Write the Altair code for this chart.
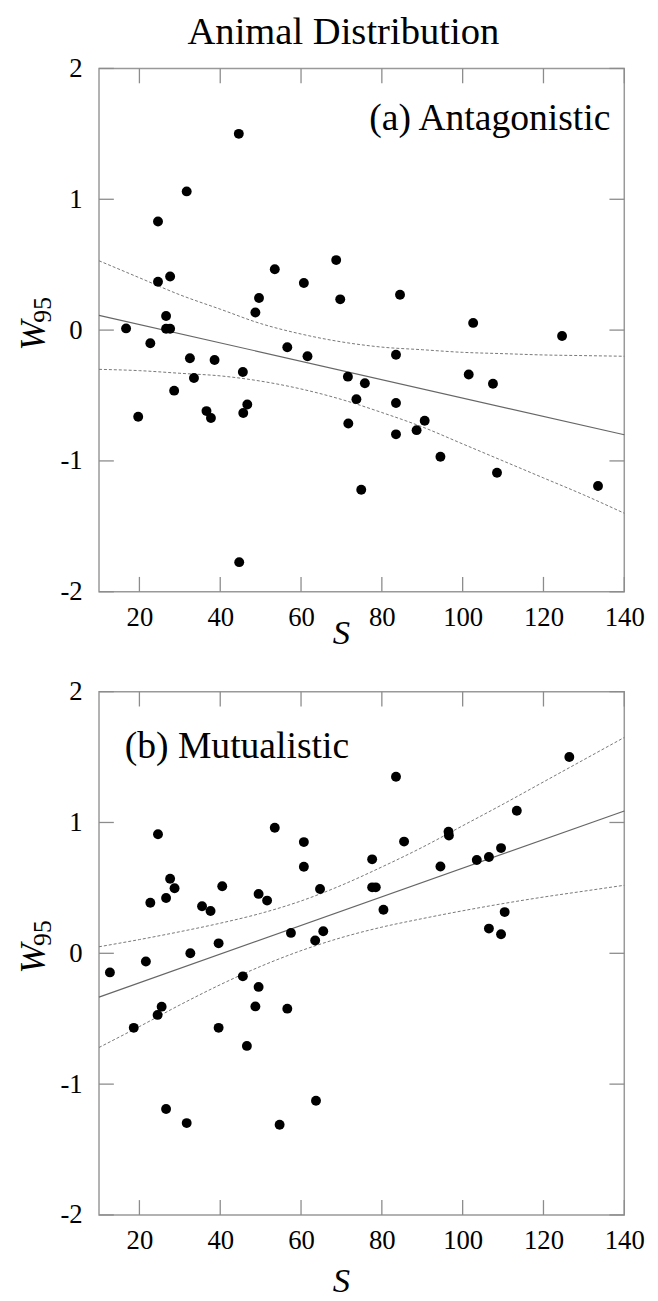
import altair as alt
import pandas as pd

FONT = "Liberation Serif"
PW, PH = 531, 529

# ---- data ----
top_S = [44.6, 31.7, 24.6, 68.7, 53.5, 24.6, 27.6, 60.7, 49.6, 69.7, 84.5, 48.7, 26.6, 102.6,
         16.7, 26.6, 27.6, 124.6, 22.7, 32.5, 38.6, 56.6, 61.6, 83.5, 33.5, 45.6, 28.6, 19.7,
         36.6, 37.7, 45.7, 46.7, 71.6, 75.8, 73.7, 71.7, 83.5, 83.5, 88.6, 90.6, 94.5, 101.5,
         107.5, 108.5, 133.5, 74.9, 44.7]
top_W = [1.50, 1.06, 0.83, 0.535, 0.465, 0.37, 0.41, 0.36, 0.245, 0.235, 0.27, 0.135, 0.108, 0.055,
         0.013, 0.01, 0.01, -0.045, -0.10, -0.215, -0.229, -0.131, -0.20, -0.188, -0.366, -0.32,
         -0.463, -0.662, -0.619, -0.672, -0.634, -0.569, -0.356, -0.406, -0.528, -0.714, -0.557,
         -0.797, -0.765, -0.693, -0.968, -0.339, -0.41, -1.09, -1.192, -1.22, -1.774]

bot_S = [126.4, 83.5, 113.4, 24.6, 53.5, 60.7, 85.5, 96.5, 96.6, 77.6, 60.7, 94.5, 103.5, 106.5,
         109.5, 27.6, 28.7, 22.7, 26.6, 40.5, 49.5, 51.6, 64.7, 77.6, 78.5, 35.5, 37.6, 80.4,
         110.4, 57.5, 65.5, 63.5, 106.5, 109.5, 39.6, 32.6, 12.7, 21.6, 45.6, 49.5, 25.5, 24.5,
         48.7, 56.6, 18.6, 39.6, 46.6, 26.6, 31.7, 54.7, 63.7]
bot_W = [1.50, 1.35, 1.09, 0.91, 0.96, 0.85, 0.854, 0.93, 0.90, 0.718, 0.662, 0.663, 0.713, 0.736,
         0.804, 0.57, 0.497, 0.386, 0.423, 0.512, 0.454, 0.403, 0.491, 0.504, 0.504, 0.36, 0.323,
         0.333, 0.315, 0.156, 0.169, 0.098, 0.189, 0.146, 0.076, 0.0, -0.146, -0.063, -0.176,
         -0.257, -0.408, -0.471, -0.406, -0.423, -0.57, -0.57, -0.708, -1.19, -1.298, -1.311, -1.127]

band_S = [10, 20, 30, 40, 50, 60, 70, 80, 90, 100, 110, 120, 130, 140]
top_up = [0.53, 0.40, 0.27, 0.16, 0.05, -0.03, -0.09, -0.13, -0.15, -0.17, -0.18, -0.19, -0.195, -0.20]
top_lo = [-0.30, -0.31, -0.33, -0.35, -0.39, -0.45, -0.53, -0.63, -0.74, -0.87, -1.00, -1.13, -1.26, -1.40]
bot_up = [0.05, 0.105, 0.165, 0.23, 0.305, 0.40, 0.52, 0.66, 0.81, 0.975, 1.14, 1.31, 1.48, 1.65]
bot_lo = [-0.72, -0.56, -0.395, -0.24, -0.10, 0.02, 0.12, 0.20, 0.265, 0.325, 0.38, 0.43, 0.475, 0.52]

fit_S = [10, 140]
top_fit = [0.113, -0.800]
bot_fit = [-0.335, 1.088]

x_ticks = [20, 40, 60, 80, 100, 120, 140]
y_ticks = [-2, -1, 0, 1, 2]

xscale = alt.Scale(domain=[10, 140], nice=False, zero=False)
yscale = alt.Scale(domain=[-2, 2], nice=False, zero=False)
xaxis = alt.Axis(values=x_ticks, title=None, domain=False, ticks=False, tickSize=0, grid=False,
                 labelFont=FONT, labelFontSize=27, labelColor="black", labelPadding=13,
                 labelFlush=False, labelOverlap=False, labelExpr="'' + datum.value")
yaxis = alt.Axis(values=y_ticks, title=None, domain=False, ticks=False, tickSize=0, grid=False,
                 labelFont=FONT, labelFontSize=27, labelColor="black", labelPadding=17,
                 labelFlush=False, labelOverlap=False, labelExpr="'' + datum.value")


def X(f):
    return alt.X(f, type="quantitative", scale=xscale, axis=xaxis)


def Y(f):
    return alt.Y(f, type="quantitative", scale=yscale, axis=yaxis)


def txt(s, x, y, size, align="left", italic=False, angle=0):
    kw = dict(font=FONT, fontSize=size, align=align, baseline="alphabetic", color="black")
    if italic:
        kw["fontStyle"] = "italic"
    if angle:
        kw["angle"] = angle
    return alt.Chart(pd.DataFrame({"t": [s]})).mark_text(**kw).encode(
        x=alt.value(x), y=alt.value(y), text="t:N")


def panel(S, Wv, up, lo, fit, label, lx, ly, lalign, s_y, title=None):
    pts = pd.DataFrame({"S": S, "W": Wv})
    band = pd.DataFrame({"S": band_S, "up": up, "lo": lo})
    fitdf = pd.DataFrame({"S": fit_S, "W": fit})
    xt = pd.DataFrame({"t": x_ticks})
    yt = pd.DataFrame({"t": y_ticks})
    tick_col = "#8c8c8c"
    layers = [
        alt.Chart(xt).mark_rule(color=tick_col, strokeWidth=1.3).encode(
            x=X("t"), y=alt.value(PH), y2=alt.value(PH - 15)),
        alt.Chart(xt).mark_rule(color=tick_col, strokeWidth=1.3).encode(
            x=X("t"), y=alt.value(0), y2=alt.value(15)),
        alt.Chart(yt).mark_rule(color=tick_col, strokeWidth=1.3).encode(
            y=Y("t"), x=alt.value(0), x2=alt.value(15)),
        alt.Chart(yt).mark_rule(color=tick_col, strokeWidth=1.3).encode(
            y=Y("t"), x=alt.value(PW - 15), x2=alt.value(PW)),
        alt.Chart(band).mark_line(color="#777", strokeWidth=1, strokeDash=[3, 2],
                                  interpolate="monotone").encode(x=X("S"), y=Y("up")),
        alt.Chart(band).mark_line(color="#777", strokeWidth=1, strokeDash=[3, 2],
                                  interpolate="monotone").encode(x=X("S"), y=Y("lo")),
        alt.Chart(fitdf).mark_line(color="#666", strokeWidth=1.2).encode(x=X("S"), y=Y("W")),
        alt.Chart(pts).mark_circle(size=100, color="black", opacity=1).encode(x=X("S"), y=Y("W")),
        txt(label, lx, ly, 38, align=lalign),
        txt("S", 245, s_y, 35, align="center", italic=True),
        txt("W", -55, 285, 36, italic=True, angle=270),
        txt("95", -49, 257, 26, angle=270),
    ]
    if title:
        layers.append(txt(title, 247, -25, 39, align="center"))
    return alt.layer(*layers).properties(width=PW, height=PH)


top = panel(top_S, top_W, top_up, top_lo, top_fit, "(a) Antagonistic", 517, 62, "right",
            PH + 53, title="Animal Distribution")
bot = panel(bot_S, bot_W, bot_up, bot_lo, bot_fit, "(b) Mutualistic", 26, 67, "left", PH + 78)

chart = alt.vconcat(top, bot, spacing=101, bounds="flush").properties(
    padding={"left": 7, "top": -3, "right": 5, "bottom": 5}
).configure(background="white").configure_view(stroke="#999", strokeWidth=1.5)

chart.save("out.html", embed_options={"renderer": "svg", "actions": False})
